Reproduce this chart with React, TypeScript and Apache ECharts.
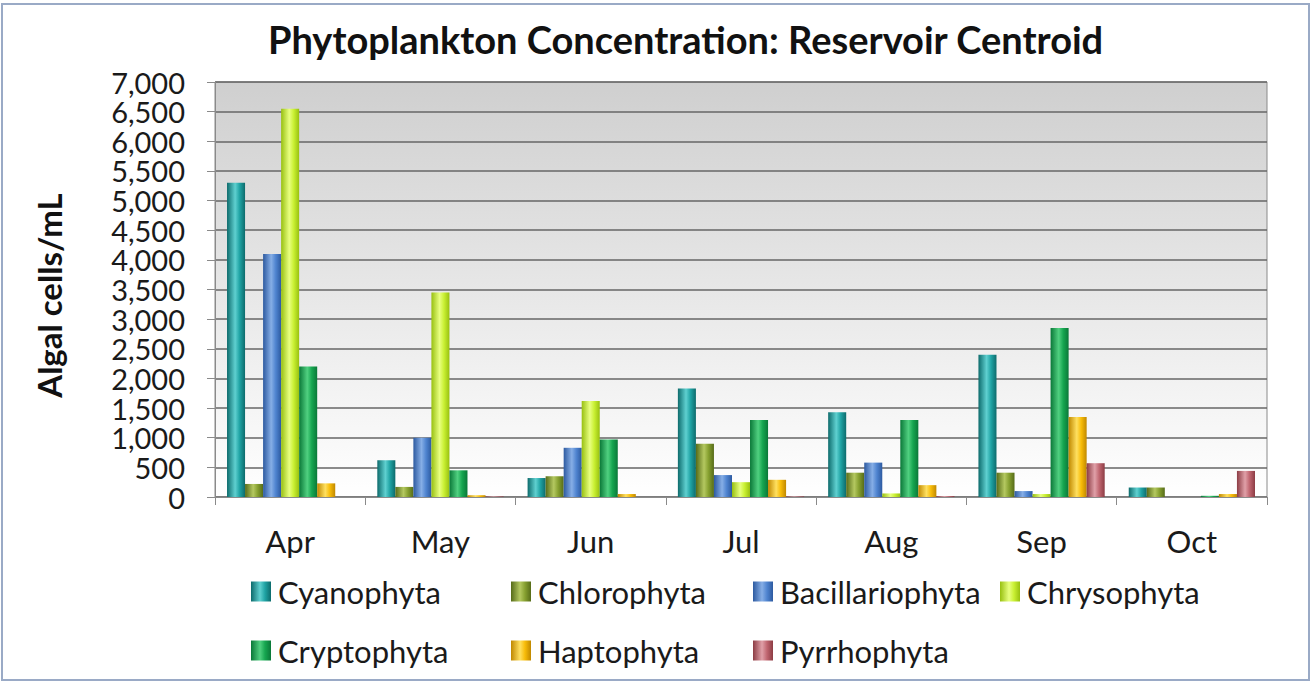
import React, { useEffect, useRef } from "react";
import * as echarts from "echarts";

const months = ["Apr", "May", "Jun", "Jul", "Aug", "Sep", "Oct"];
const cyanophyta = [5300, 620, 320, 1830, 1430, 2400, 160];
const chlorophyta = [220, 170, 350, 900, 410, 410, 160];
const bacillariophyta = [4100, 1000, 830, 370, 580, 100, 0];
const chrysophyta = [6550, 3450, 1620, 250, 60, 50, 0];
const cryptophyta = [2200, 450, 970, 1300, 1300, 2850, 20];
const haptophyta = [230, 30, 50, 290, 200, 1350, 50];
const pyrrhophyta = [0, 10, 0, 10, 15, 570, 440];
const yTicks = { min: 0, max: 7000, interval: 500 };

const FONT = "Lato, 'Open Sans', sans-serif";

const seriesDefs = [
  { name: "Cyanophyta", data: cyanophyta, dark: "#0d6b6c", mid: "#1fa3a4", light: "#5fd0d0" },
  { name: "Chlorophyta", data: chlorophyta, dark: "#566b18", mid: "#86a030", light: "#b4c860" },
  { name: "Bacillariophyta", data: bacillariophyta, dark: "#2d5aa0", mid: "#4f84d0", light: "#86aee6" },
  { name: "Chrysophyta", data: chrysophyta, dark: "#98c010", mid: "#c9f032", light: "#e8ff80" },
  { name: "Cryptophyta", data: cryptophyta, dark: "#0a7838", mid: "#16a650", light: "#50d080" },
  { name: "Haptophyta", data: haptophyta, dark: "#c08800", mid: "#f8bc08", light: "#ffe060" },
  { name: "Pyrrhophyta", data: pyrrhophyta, dark: "#8c3c44", mid: "#c06670", light: "#e0a0a8" },
];

const legendCols = [246, 506, 748, 995];
const legendRows = [571, 630];

export default function App() {
  const ref = useRef<HTMLDivElement>(null);
  useEffect(() => {
    if (!ref.current) return;
    const chart = echarts.init(ref.current, null, { renderer: "svg" });
    const grad = (d: string, m: string, l: string) =>
      new echarts.graphic.LinearGradient(0, 0, 1, 0, [
        { offset: 0, color: d },
        { offset: 0.45, color: l },
        { offset: 0.7, color: m },
        { offset: 1, color: d },
      ]);
    const legends = seriesDefs.map((s, i) => ({
      left: legendCols[i < 4 ? i : i - 4],
      top: legendRows[i < 4 ? 0 : 1],
      orient: "horizontal",
      itemWidth: 20,
      itemHeight: 20,
      icon: "rect",
      data: [s.name],
      textStyle: { fontFamily: FONT, fontSize: 31, color: "#1a1a1a", padding: [0, 0, 0, 2] },
    }));
    const yLabel = (keepThousands: boolean) => ({
      fontFamily: FONT,
      fontSize: 29,
      lineHeight: 24,
      color: "#1a1a1a",
      margin: 30,
      showMinLabel: true,
      showMaxLabel: true,
      formatter: (v: number) =>
        (v % 1000 === 0) === keepThousands ? v.toLocaleString("en-US") : "",
    });
    chart.setOption({
      animation: false,
      backgroundColor: "#ffffff",
      textStyle: { fontFamily: FONT },
      title: {
        text: "Phytoplankton Concentration: Reservoir Centroid",
        left: 263,
        top: 15,
        textStyle: { fontFamily: FONT, fontSize: 38, fontWeight: "bold", color: "#111" },
      },
      legend: legends,
      grid: {
        left: 215,
        right: 45,
        top: 82,
        bottom: 184,
        show: true,
        borderColor: "#8a8a8a",
        borderWidth: 1,
        backgroundColor: new echarts.graphic.LinearGradient(0, 0, 0, 1, [
          { offset: 0, color: "#cfcfcf" },
          { offset: 1, color: "#ffffff" },
        ]),
      },
      xAxis: {
        type: "category",
        data: months,
        axisLine: { lineStyle: { color: "#8a8a8a", width: 1 } },
        axisTick: { show: true, length: 8, lineStyle: { color: "#8a8a8a" } },
        axisLabel: { fontFamily: FONT, fontSize: 31, color: "#1a1a1a", margin: 28 },
      },
      yAxis: [
        {
          type: "value",
          position: "left",
          min: yTicks.min,
          max: yTicks.max,
          interval: yTicks.interval,
          name: "Algal cells/mL",
          nameLocation: "middle",
          nameRotate: 90,
          nameGap: 150,
          nameTextStyle: {
            fontFamily: FONT,
            fontSize: 33,
            fontWeight: "bold",
            color: "#111",
            padding: [0, 12, 0, 0],
          },
          axisLine: { show: true, lineStyle: { color: "#8a8a8a" } },
          axisTick: { show: true, length: 8, lineStyle: { color: "#8a8a8a" } },
          axisLabel: yLabel(true),
          splitLine: { lineStyle: { color: "#666666", width: 1.5 } },
        },
        {
          type: "value",
          position: "left",
          offset: 0,
          min: yTicks.min,
          max: yTicks.max,
          interval: yTicks.interval,
          axisLine: { show: false },
          axisTick: { show: false },
          splitLine: { show: false },
          axisLabel: yLabel(false),
        },
      ],
      series: seriesDefs.map((s) => ({
        name: s.name,
        type: "bar",
        data: s.data,
        yAxisIndex: 0,
        barGap: "0%",
        barCategoryGap: "16%",
        itemStyle: { color: grad(s.dark, s.mid, s.light) },
      })),
      graphic: [
        {
          type: "rect",
          shape: { x: 2, y: 4, width: 1307, height: 676 },
          style: { fill: "none", stroke: "#9aaac6", lineWidth: 2 },
          silent: true,
        },
      ],
    });
    return () => chart.dispose();
  }, []);
  return (
    <div
      ref={ref}
      style={{ position: "fixed", left: 0, top: 0, width: 1312, height: 681 }}
    />
  );
}
